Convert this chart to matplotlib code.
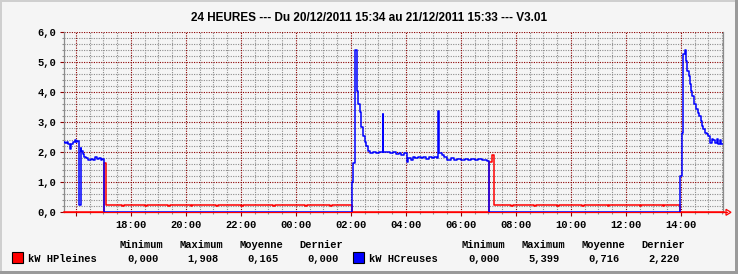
import matplotlib
matplotlib.use('Agg')

import matplotlib.pyplot as plt
from matplotlib.patches import Rectangle, Polygon
from matplotlib.lines import Line2D

W, H = 738, 274
MONO = 'Liberation Mono'
SANS = 'Liberation Sans'
MGRID = '#8b0000'
GRID = '#8c8c8c'
BG = '#f5f5f5'

TITLE = '24 HEURES --- Du 20/12/2011 15:34 au 21/12/2011 15:33 --- V3.01'
START = '15:34'

# kW HCreuses (blue), step series: clock time -> value
hc_times = ['15:34', '15:37', '15:40', '15:43', '15:46', '15:48', '15:50', '15:53',
            '15:57', '16:00', '16:03', '16:07', '16:10', '16:12', '16:15', '16:18',
            '16:22', '16:27', '16:32', '16:37', '16:42', '16:46', '16:50', '16:54',
            '16:58', '17:02',
            '02:02', '02:05', '02:08', '02:10', '02:13', '02:16', '02:19', '02:22',
            '02:26', '02:30', '02:34', '02:38', '02:42', '02:48', '02:55', '03:02',
            '03:09', '03:11', '03:18', '03:25', '03:32', '03:38', '03:44', '03:50',
            '03:56', '04:02', '04:05', '04:10', '04:15', '04:20', '04:26', '04:32',
            '04:38', '04:44', '04:50', '04:56', '05:02', '05:08', '05:10', '05:12',
            '05:18', '05:24', '05:30', '05:38', '05:45', '05:52', '06:00', '06:08',
            '06:15', '06:22', '06:30', '06:38', '06:45', '06:52', '06:58', '07:01',
            '13:59', '14:02', '14:05', '14:09', '14:11', '14:14', '14:17', '14:20',
            '14:23', '14:25', '14:28', '14:34', '14:37', '14:40', '14:43', '14:46',
            '14:49', '14:52', '14:56', '15:00', '15:03', '15:07', '15:11', '15:14',
            '15:18', '15:21', '15:25', '15:27', '15:33']
hc_values = [2.35, 2.30, 2.36, 2.28, 2.25, 2.10, 2.28, 2.35,
             2.40, 2.33, 2.38, 0.25, 2.15, 2.05, 1.95, 1.85,
             1.80, 1.75, 1.78, 1.74, 1.84, 1.77, 1.80, 1.74,
             1.77, 0.0,
             1.00, 1.66, 4.04, 5.40, 4.04, 3.60, 3.33, 2.83,
             2.54, 2.33, 2.21, 2.04, 1.97, 2.02, 1.97, 2.00,
             3.27, 2.00, 2.02, 1.97, 2.00, 1.93, 1.97, 1.92,
             1.97, 1.68, 1.82, 1.76, 1.85, 1.80, 1.86, 1.80,
             1.83, 1.78, 1.85, 1.80, 1.84, 1.80, 3.38, 1.97,
             1.90, 1.84, 1.76, 1.80, 1.74, 1.78, 1.75, 1.78,
             1.73, 1.77, 1.74, 1.78, 1.73, 1.76, 1.72, 0.0,
             1.21, 2.66, 5.27, 5.40, 5.04, 4.71, 4.55, 4.27,
             4.04, 3.87, 3.60, 3.43, 3.32, 3.20, 3.04, 2.88,
             2.77, 2.66, 2.62, 2.54, 2.32, 2.45, 2.40, 2.30,
             2.43, 2.27, 2.40, 2.27, 2.22]

# kW HPleines (red)
hp_times = ['15:34', '17:02', '17:06', '17:40', '17:44', '18:30', '18:34', '19:20',
            '19:25', '20:10', '20:14', '21:05', '21:09', '22:00', '22:04', '23:10',
            '23:14', '00:20', '00:24', '01:15', '01:19', '02:02',
            '07:01', '07:07', '07:12', '07:50', '07:54', '08:40', '08:44', '09:30',
            '09:34', '10:25', '10:29', '11:20', '11:24', '12:30', '12:34', '13:20',
            '13:24', '13:59', '15:33']
hp_values = [0.0, 1.65, 0.24, 0.21, 0.24, 0.21, 0.24, 0.21,
             0.24, 0.21, 0.24, 0.21, 0.24, 0.21, 0.24, 0.21,
             0.24, 0.21, 0.24, 0.21, 0.24, 0.0,
             1.68, 1.91, 0.24, 0.21, 0.24, 0.21, 0.24, 0.21,
             0.24, 0.21, 0.24, 0.21, 0.24, 0.21, 0.24, 0.21,
             0.24, 0.0, 0.0]

hours_labels = ['', '18:00', '20:00', '22:00', '00:00', '02:00', '04:00',
                '06:00', '08:00', '10:00', '12:00', '14:00']
yticks = [0, 1, 2, 3, 4, 5, 6]
ylabels = ['0,0', '1,0', '2,0', '3,0', '4,0', '5,0', '6,0']

stat_heads = ['Minimum', 'Maximum', 'Moyenne', 'Dernier']
hp_stats = ['0,000', '1,908', '0,165', '0,000']
hc_stats = ['0,000', '5,399', '0,716', '2,220']


def to_hours(s):
    h, m = map(int, s.split(':'))
    s0h, s0m = map(int, START.split(':'))
    t = h + m / 60.0 - (s0h + s0m / 60.0)
    if t < 0:
        t += 24
    return t


def fx(px):
    return px / W


def fy(py):
    return 1 - py / H


# plot area in pixels
L, R, T, B = 64, 723, 32.3, 212.3

fig = plt.figure(figsize=(W / 100, H / 100), dpi=100, facecolor=BG)
ax = fig.add_axes([fx(L), fy(B), fx(R - L), (B - T) / H])
ax.set_facecolor(BG)

xmax = (R - L) / 27.5
ax.set_xlim(0, xmax)
ax.set_ylim(0, 6)

# grid
first = to_hours('16:00')
majors = [first + 2 * k for k in range(12)]
minors = [first + 0.5 * k for k in range(48) if first + 0.5 * k < xmax and k % 4]
yminors = [i * 0.2 for i in range(31) if i % 5]

for y in yminors:
    ax.axhline(y, color=GRID, lw=0.8, ls=(0, (1, 1.2)), zorder=1)
for x in minors:
    ax.axvline(x, color=GRID, lw=0.8, ls=(0, (1, 1.2)), zorder=1)
for y in yticks[1:]:
    ax.axhline(y, color=MGRID, lw=0.8, ls=(0, (1, 1.2)), zorder=1.5)
for x in majors:
    ax.axvline(x, color=MGRID, lw=0.8, ls=(0, (1, 1.2)), zorder=1.5)

ax.set_xticks(majors)
ax.set_xticklabels(hours_labels, fontfamily=MONO, fontsize=7.5, fontweight='bold')
ax.set_xticks(minors, minor=True)
ax.set_yticks(yticks)
ax.set_yticklabels(ylabels, fontfamily=MONO, fontsize=7.5, fontweight='bold')
ax.set_yticks(yminors, minor=True)
ax.tick_params(which='major', direction='out', length=3, width=0.8, color=MGRID)
ax.tick_params(axis='x', which='major', pad=2.5)
ax.tick_params(axis='y', which='major', pad=2.5)
ax.tick_params(which='minor', direction='out', length=1.5, width=0.8, color=GRID)

ax.spines['top'].set_visible(False)
ax.spines['left'].set_color(GRID)
ax.spines['right'].set_color(GRID)
ax.spines['bottom'].set_color('red')
for sp in ax.spines.values():
    sp.set_linewidth(0.9)

# data
ax.plot([to_hours(t) for t in hp_times], hp_values, drawstyle='steps-post',
        color='#ff0000', lw=1.1, zorder=3, clip_on=False)
ax.plot([to_hours(t) for t in hc_times], hc_values, drawstyle='steps-post',
        color='#0000ff', lw=1.1, zorder=4)

# arrow at end of x axis
fig.add_artist(Line2D([fx(R), fx(727)], [fy(B), fy(B)], color='red', lw=0.9))
fig.add_artist(Polygon([[fx(726), fy(B - 3)], [fx(731), fy(B)], [fx(726), fy(B + 3)]],
                       closed=True, fill=False, edgecolor='red', lw=0.9))

fig.text(0.5, fy(18), TITLE, ha='center', va='center', fontfamily=SANS,
         fontweight='bold', fontsize=8.5)


# legend
def legend_row(x0, color, name, stats, head_x, val_x):
    fig.add_artist(Rectangle((fx(x0), fy(263)), fx(11), 11 / H, facecolor=color,
                             edgecolor='black', lw=0.8))
    fig.text(fx(x0 + 16), fy(259), name, ha='left', va='center',
             fontfamily=MONO, fontsize=7.5, fontweight='bold')
    for hx, head in zip(head_x, stat_heads):
        fig.text(fx(hx), fy(245), head, ha='center', va='center',
                 fontfamily=MONO, fontsize=7.5, fontweight='bold')
    for vx, val in zip(val_x, stats):
        fig.text(fx(vx), fy(259), val, ha='right', va='center',
                 fontfamily=MONO, fontsize=7.5, fontweight='bold')


legend_row(12, '#ff0000', 'kW HPleines', hp_stats,
           [141, 201, 261, 321], [159, 219, 279, 339])
legend_row(353, '#0000ff', 'kW HCreuses', hc_stats,
           [483, 543, 603, 663], [500, 560, 620, 680])

# window borders
fig.add_artist(Rectangle((0, 0), 2 / W, 1, facecolor='#cfcfcf', edgecolor='none'))
fig.add_artist(Rectangle((0, 1 - 2 / H), 1, 2 / H, facecolor='#cfcfcf', edgecolor='none'))
fig.add_artist(Rectangle((1 - 3 / W, 0), 3 / W, 1, facecolor='#9a9a9a', edgecolor='none'))
fig.add_artist(Rectangle((0, 0), 1, 3 / H, facecolor='#9a9a9a', edgecolor='none'))

fig.savefig('out.png', dpi=100, facecolor=BG)
